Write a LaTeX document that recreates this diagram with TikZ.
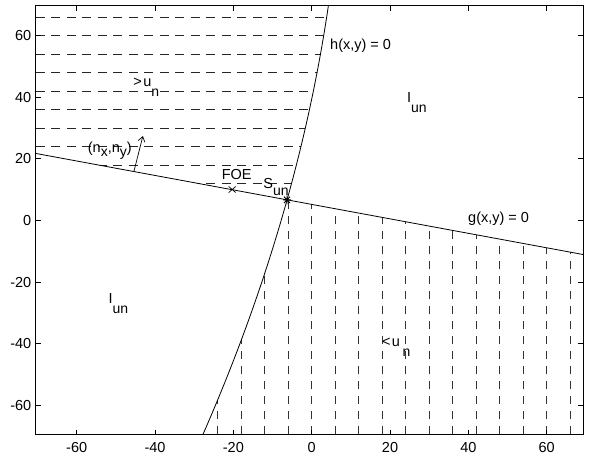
\documentclass[tikz,border=0pt]{standalone}
\usepackage{fontspec}
\setmainfont{Liberation Sans}
\usetikzlibrary{arrows.meta}
\newcommand\lowsub[2]{\raisebox{-#2}{\fontsize{14}{15}\selectfont #1}}
\begin{document}
\begin{tikzpicture}[x=3.917pt,y=3.083pt,
  declare function={hx(\t)=-27.7+0.282*(\t+69.2)-0.000829*(\t+69.2)*(\t-6.7);},
  lbl/.style={font=\fontsize{14.5}{16}\selectfont, inner sep=0pt},
  curve/.style={line width=0.8pt, black},
  hdash/.style={line width=0.85pt, dash pattern=on 9pt off 6.5pt, black!85},
  vdash/.style={line width=0.65pt, dash pattern=on 8.5pt off 6.5pt, black!80},
  tick/.style={line width=0.7pt},
  frame/.style={line width=1pt}]
\useasboundingbox (-79.58,-77.36) rectangle (71.30,71.52);

% horizontal dashed region (above g, left of h)
\begin{scope}
  \clip (-70.4,69.6) -- ({hx(69.6)},69.6)
    -- plot[domain=69.6:6.7, samples=40] ({hx(\x)},\x)
    -- (-70.4,21.74) -- cycle;
  \foreach \yy in {12,18,...,66}
    \draw[hdash] (-70.4,\yy) -- (10,\yy);
\end{scope}

% vertical dashed region (below g, right of h)
\begin{scope}
  \clip (-6.3,6.7) -- (69.4,-11.06) -- (69.4,-69.4) -- ({hx(-69.4)},-69.4)
    -- plot[domain=-69.4:6.7, samples=40] ({hx(\x)},\x) -- cycle;
  \foreach \xx in {-24,-18,...,66}
    \draw[vdash] (\xx,-69.4) -- (\xx,30);
\end{scope}

% curves
\coordinate (gL) at (-70.4,21.74);
\coordinate (gR) at (69.4,-11.06);
\draw[curve] (gL) -- (gR);
\draw[curve] plot[domain=-69.4:69.6, samples=60] ({hx(\x)},\x);

% markers
\coordinate (S) at (-6.3,6.7);
\coordinate (FOE) at (-20.3,10.05);
\draw[line width=0.7pt] ([shift={(-3.5pt,-3pt)}]FOE) -- ([shift={(3.5pt,3pt)}]FOE)
  ([shift={(-3.5pt,3pt)}]FOE) -- ([shift={(3.5pt,-3pt)}]FOE);
\draw[line width=0.9pt] ([shift={(-4pt,0pt)}]S) -- ([shift={(4pt,0pt)}]S)
  ([shift={(0pt,-4.5pt)}]S) -- ([shift={(0pt,4.5pt)}]S)
  ([shift={(-3pt,-3.2pt)}]S) -- ([shift={(3pt,3.2pt)}]S)
  ([shift={(-3pt,3.2pt)}]S) -- ([shift={(3pt,-3.2pt)}]S);

% normal arrow
\coordinate (nS) at (-45.4,15.87);
\coordinate (nE) at (-43.1,27.4);
\draw[line width=0.7pt,-{Straight Barb[length=5pt,width=7pt]}] (nS) -- (nE);

% frame
\draw[frame] (-70.4,-69.4) rectangle (69.4,69.6);
\foreach \v in {-60,-40,...,60} {
  \draw[tick] (\v,-69.4) -- ++(0,1.6);
  \draw[tick] (\v,69.6) -- ++(0,-1.6);
  \node[lbl, anchor=base] (xl\v) at (\v,-75.4) {\v};
}
\foreach \v in {-60,-40,...,60} {
  \draw[tick] (-70.4,\v) -- ++(1.3,0);
  \draw[tick] (69.4,\v) -- ++(-1.3,0);
  \node[lbl, anchor=east] (yl\v) at (-71.55,\v) {\v};
}

% labels
\node[lbl, anchor=base west] (hlab) at (4.67,55.6) {h(x,y) = 0};
\node[lbl, anchor=base west] (glab) at (39.9,-0.5) {g(x,y) = 0};
\node[lbl, anchor=base west] (Iup) at (24.3,38.4) {I\lowsub{un}{10pt}};
\node[lbl, anchor=base west] (Ilow) at (-51.9,-26.8) {I\lowsub{un}{10pt}};
\node[lbl, anchor=base west] (gt) at (-45.6,43.3) {>\kern1.5pt u\lowsub{n}{10pt}};
\node[lbl, anchor=base west] (lt) at (17.9,-41.0) {<\kern1.5pt u\kern2.5pt\lowsub{n}{10pt}};
\node[lbl, anchor=base west] (nxy) at (-57.2,21.9) {(n\lowsub{x}{4pt},n\lowsub{y}{4pt})};
\node[lbl, anchor=base west] (foelab) at (-23.0,13.4) {FOE};
\node[lbl, anchor=base west] (slab) at (-12.4,10.4) {S\lowsub{un}{7pt}};
\end{tikzpicture}
\end{document}
